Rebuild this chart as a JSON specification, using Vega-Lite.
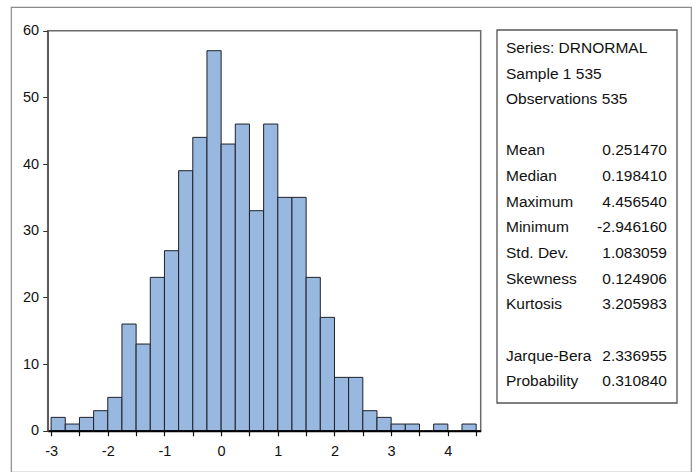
{
  "$schema": "https://vega.github.io/schema/vega-lite/v6.json",
  "width": 680,
  "height": 465,
  "autosize": {"type": "none"},
  "padding": {"left": 11, "top": 7, "right": 6, "bottom": 0},
  "background": "white",
  "config": {
    "view": {"stroke": "#8a8a8a", "strokeWidth": 1.2},
    "font": "Liberation Sans"
  },
  "layer": [
    {
      "layer": [
        {
          "data": {"values": [{}]},
          "mark": {"type": "rect", "fill": "transparent", "stroke": "#6a6a6a", "strokeWidth": 1.5},
          "encoding": {
            "x": {"datum": -3.06, "type": "quantitative"},
            "x2": {"datum": 4.58},
            "y": {"datum": 0, "type": "quantitative"},
            "y2": {"datum": 60}
          }
        },
        {
          "data": {
            "values": [
              {"bin_start": -3.0, "bin_end": -2.75, "count": 2},
              {"bin_start": -2.75, "bin_end": -2.5, "count": 1},
              {"bin_start": -2.5, "bin_end": -2.25, "count": 2},
              {"bin_start": -2.25, "bin_end": -2.0, "count": 3},
              {"bin_start": -2.0, "bin_end": -1.75, "count": 5},
              {"bin_start": -1.75, "bin_end": -1.5, "count": 16},
              {"bin_start": -1.5, "bin_end": -1.25, "count": 13},
              {"bin_start": -1.25, "bin_end": -1.0, "count": 23},
              {"bin_start": -1.0, "bin_end": -0.75, "count": 27},
              {"bin_start": -0.75, "bin_end": -0.5, "count": 39},
              {"bin_start": -0.5, "bin_end": -0.25, "count": 44},
              {"bin_start": -0.25, "bin_end": 0.0, "count": 57},
              {"bin_start": 0.0, "bin_end": 0.25, "count": 43},
              {"bin_start": 0.25, "bin_end": 0.5, "count": 46},
              {"bin_start": 0.5, "bin_end": 0.75, "count": 33},
              {"bin_start": 0.75, "bin_end": 1.0, "count": 46},
              {"bin_start": 1.0, "bin_end": 1.25, "count": 35},
              {"bin_start": 1.25, "bin_end": 1.5, "count": 35},
              {"bin_start": 1.5, "bin_end": 1.75, "count": 23},
              {"bin_start": 1.75, "bin_end": 2.0, "count": 17},
              {"bin_start": 2.0, "bin_end": 2.25, "count": 8},
              {"bin_start": 2.25, "bin_end": 2.5, "count": 8},
              {"bin_start": 2.5, "bin_end": 2.75, "count": 3},
              {"bin_start": 2.75, "bin_end": 3.0, "count": 2},
              {"bin_start": 3.0, "bin_end": 3.25, "count": 1},
              {"bin_start": 3.25, "bin_end": 3.5, "count": 1},
              {"bin_start": 3.75, "bin_end": 4.0, "count": 1},
              {"bin_start": 4.25, "bin_end": 4.5, "count": 1}
            ]
          },
          "mark": {"type": "rect", "fill": "#99b8e0", "stroke": "#1e2028", "strokeWidth": 1},
          "encoding": {
            "x": {
              "field": "bin_start",
              "type": "quantitative",
              "scale": {"domain": [-3.06, 4.58], "range": [36.7, 469.7], "nice": false, "zero": false},
              "axis": {
                "orient": "bottom",
                "offset": -41.3,
                "title": null,
                "grid": false,
                "values": [-3, -2.75, -2.5, -2.25, -2, -1.75, -1.5, -1.25, -1, -0.75, -0.5, -0.25, 0, 0.25, 0.5, 0.75, 1, 1.25, 1.5, 1.75, 2, 2.25, 2.5, 2.75, 3, 3.25, 3.5, 3.75, 4, 4.25, 4.5],
                "labelExpr": "datum.value % 1 == 0 ? '' + datum.value : ''",
                "labelOverlap": false,
                "labelFlush": false,
                "tickSize": 5,
                "tickColor": "#111",
                "tickWidth": 1.2,
                "domainColor": "#000",
                "domainWidth": 2,
                "labelFont": "Liberation Sans",
                "labelFontSize": 14.5,
                "labelColor": "#111",
                "labelPadding": 9,
                "zindex": 1
              }
            },
            "x2": {"field": "bin_end"},
            "y": {
              "field": "count",
              "type": "quantitative",
              "scale": {"domain": [0, 60], "range": [423.7, 23.7], "nice": false, "zero": false},
              "axis": {
                "orient": "left",
                "offset": -36.7,
                "title": null,
                "grid": false,
                "values": [0, 10, 20, 30, 40, 50, 60],
                "tickSize": 5,
                "tickColor": "#333",
                "domainColor": "#555",
                "domainWidth": 1.5,
                "labelFont": "Liberation Sans",
                "labelFontSize": 14.5,
                "labelColor": "#111",
                "labelPadding": 4,
                "zindex": 1
              }
            },
            "y2": {"datum": 0}
          }
        }
      ]
    },
    {
      "data": {
        "values": [
          {"row": 0, "label": "Series: DRNORMAL", "value": ""},
          {"row": 1, "label": "Sample 1 535", "value": ""},
          {"row": 2, "label": "Observations 535", "value": ""},
          {"row": 4, "label": "Mean", "value": "0.251470"},
          {"row": 5, "label": "Median", "value": "0.198410"},
          {"row": 6, "label": "Maximum", "value": "4.456540"},
          {"row": 7, "label": "Minimum", "value": "-2.946160"},
          {"row": 8, "label": "Std. Dev.", "value": "1.083059"},
          {"row": 9, "label": "Skewness", "value": "0.124906"},
          {"row": 10, "label": "Kurtosis", "value": "3.205983"},
          {"row": 12, "label": "Jarque-Bera", "value": "2.336955"},
          {"row": 13, "label": "Probability", "value": "0.310840"}
        ]
      },
      "layer": [
        {
          "data": {"values": [{}]},
          "mark": {"type": "rect", "fill": "white", "stroke": "#555", "strokeWidth": 1.3},
          "encoding": {
            "x": {"datum": 0, "type": "quantitative", "scale": {"domain": [0, 1], "range": [486, 666], "nice": false, "zero": false}, "axis": null},
            "x2": {"datum": 1},
            "y": {"datum": -0.7, "type": "quantitative", "scale": {"domain": [-0.7, 13.85], "range": [23, 396], "nice": false, "zero": false}, "axis": null},
            "y2": {"datum": 13.85}
          }
        },
        {
          "mark": {"type": "text", "align": "left", "baseline": "middle", "font": "Liberation Sans", "fontSize": 15.5, "color": "#111"},
          "encoding": {
            "x": {"datum": 0.05, "type": "quantitative", "axis": null},
            "y": {"field": "row", "type": "quantitative", "axis": null},
            "text": {"field": "label"}
          }
        },
        {
          "mark": {"type": "text", "align": "right", "baseline": "middle", "font": "Liberation Sans", "fontSize": 15.5, "color": "#111"},
          "encoding": {
            "x": {"datum": 0.944, "type": "quantitative", "axis": null},
            "y": {"field": "row", "type": "quantitative", "axis": null},
            "text": {"field": "value"}
          }
        }
      ]
    }
  ],
  "resolve": {
    "scale": {"x": "independent", "y": "independent"},
    "axis": {"x": "independent", "y": "independent"}
  }
}
